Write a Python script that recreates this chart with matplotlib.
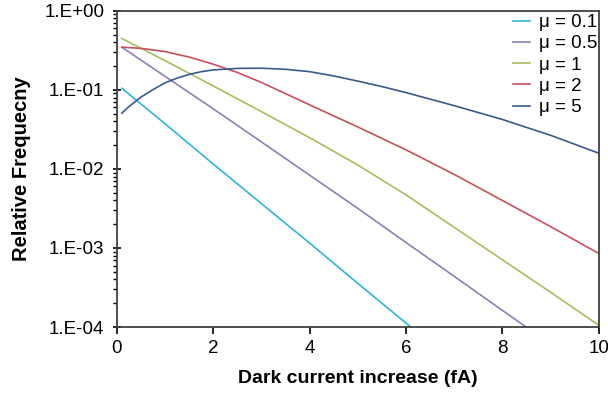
import numpy as np
import matplotlib
matplotlib.use("Agg")
import matplotlib.pyplot as plt

plt.rcParams['font.family'] = ['Liberation Sans', 'DejaVu Sans']

# values (log scale)
x_01 = [0.1, 1, 2, 3, 4, 5, 6, 7]
y_01 = [0.105, 0.0372, 0.0115, 0.00363, 0.00115, 0.000355, 0.000112, 0.0000355]

x_05 = [0.1, 1, 2, 3, 4, 5, 6, 7, 8, 9]
y_05 = [0.347, 0.148, 0.0575, 0.0219, 0.00832, 0.00316, 0.00117, 0.000437, 0.000162, 0.0000603]

x_1 = [0.1, 1, 2, 3, 4, 5, 6, 7, 8, 9, 10]
y_1 = [0.447, 0.234, 0.112, 0.0530, 0.0248, 0.0112, 0.00468, 0.00182, 0.000708, 0.000275, 0.000105]

x_2 = [0.1, 0.5, 1, 1.5, 2, 2.5, 3, 4, 5, 6, 7, 8, 9, 10]
y_2 = [0.347, 0.335, 0.305, 0.260, 0.211, 0.166, 0.124, 0.0646, 0.0339, 0.0174,
       0.00851, 0.00398, 0.00186, 0.000851]

x_5 = [0.1, 0.25, 0.5, 0.75, 1, 1.25, 1.5, 1.75, 2, 2.5, 3, 3.5, 4, 4.5, 5, 5.5,
       6, 7, 8, 9, 10]
y_5 = [0.0507, 0.0617, 0.0813, 0.101, 0.123, 0.141, 0.157, 0.170, 0.179, 0.187,
       0.188, 0.182, 0.170, 0.150, 0.129, 0.110, 0.0923, 0.0631, 0.0422, 0.0266,
       0.0158]

labels = ["μ = 0.1", "μ = 0.5", "μ = 1", "μ = 2", "μ = 5"]
colors = ["#2eb4de", "#8c7fb5", "#a6be5c", "#c8505a", "#3a5a8c"]

yticks = [1e-4, 1e-3, 1e-2, 1e-1, 1]
ytick_labels = ["1.E-04", "1.E-03", "1.E-02", "1.E-01", "1.E+00"]
xticks = [0, 2, 4, 6, 8, 10]

fig = plt.figure(figsize=(6.08, 3.94), dpi=100)
ax = fig.add_axes([0.1924, 0.170, 0.7926, 0.8025])

series = [(x_01, y_01), (x_05, y_05), (x_1, y_1), (x_2, y_2), (x_5, y_5)]
for (xs, ys), lab, c in zip(series, labels, colors):
    ax.plot(xs, ys, color=c, lw=1.2, label=lab)

ax.set_yscale('log')
ax.set_xlim(0, 10)
ax.set_ylim(1e-4, 1)
ax.set_yticks(yticks)
ax.set_yticklabels(ytick_labels)
ax.set_xticks(xticks)
ax.tick_params(axis='y', which='major', direction='inout', length=6, width=1.2,
               labelsize=13.5, pad=6)
ax.tick_params(axis='y', which='minor', direction='out', length=3, width=1.0)
ax.tick_params(axis='x', which='major', direction='out', length=5, width=1.2,
               labelsize=13.5, pad=4)
for s in ax.spines.values():
    s.set_color('#404040')
    s.set_linewidth(1.3)

ax.set_xlabel("Dark current increase (fA)", fontsize=14, fontweight='bold', labelpad=10)
ax.set_ylabel("Relative Frequecny", fontsize=14.5, fontweight='bold', labelpad=10)

ax.legend(loc='upper right', bbox_to_anchor=(0.997, 0.99), frameon=False,
          fontsize=13.5, handlelength=0.9, handletextpad=0.5, labelspacing=0.22,
          borderpad=0, borderaxespad=0)

fig.savefig("out.png", dpi=100)
